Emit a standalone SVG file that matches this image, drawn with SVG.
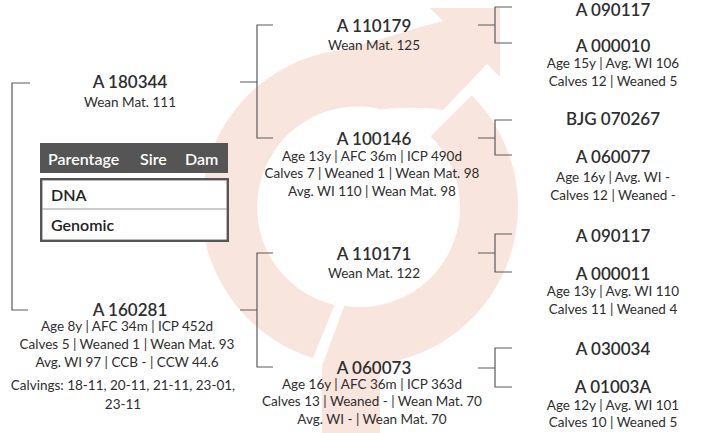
<svg xmlns="http://www.w3.org/2000/svg" width="703" height="433" viewBox="0 0 703 433">
<style>
.bg{fill:#f8e5dd}
.ln{stroke:#5a5a5a;stroke-width:1.2;fill:none}
text{font-family:Lato,"Open Sans","Liberation Sans",sans-serif;fill:#2e2e2e;text-anchor:middle}
.h{font-size:17px;font-weight:600}
.d{font-size:13.5px}
.th{font-size:16px;font-weight:600;fill:#fff;text-anchor:start}
.tr{font-size:16px;font-weight:600;fill:#222;text-anchor:start}
</style>
<rect width="703" height="433" fill="#fff"/>
<g id="background">
<path class="bg" d="M334.5,305 A100,100 0 1 1 381,109.2 Q420,106 443,110 L487,64 L500,77 L500,8 L430,8 L443,21 C415,28 375,42 338,50.5 A158,158 0 0 0 313,358 Z"/>
<path class="bg" d="M471.7,95.3 A158,158 0 0 1 380,363.7 L380,433 L322,433 L322,366 L344.4,305.8 A100,100 0 0 0 430.7,136.3 Z"/>
</g>
<g id="connectors">
<path class="ln" d="M30,83 H12 V310 H28"/>
<path class="ln" d="M240,82 H257 M273,25 H257 V138 H273"/>
<path class="ln" d="M240,310 H257 M273,253 H257 V367 H273"/>
<path class="ln" d="M478,25 H495 M512,7 H495 V43 H512"/>
<path class="ln" d="M478,138 H495 M512,120 H495 V155 H512"/>
<path class="ln" d="M478,253 H495 M512,234 H495 V272 H512"/>
<path class="ln" d="M478,368 H495 M512,348 H495 V387 H512"/>
</g>
<g id="legend">
<rect x="40" y="143" width="188" height="30" fill="#555"/>
<text class="th" x="48" y="165">Parentage</text>
<text class="th" x="140" y="165">Sire</text>
<text class="th" x="185" y="165">Dam</text>
<rect x="41.2" y="179.2" width="186.6" height="61.6" fill="#fff" stroke="#555" stroke-width="2.4"/>
<line x1="42" y1="209" x2="227" y2="209" stroke="#999" stroke-width="1.2"/>
<text class="tr" x="51" y="201">DNA</text>
<text class="tr" x="51" y="231">Genomic</text>
</g>
<g id="n180344">
<text class="h" x="130" y="88">A 180344</text>
<text class="d" x="130" y="107">Wean Mat. 111</text>
</g>
<g id="n160281">
<text class="h" x="130" y="316">A 160281</text>
<text class="d" x="127" y="331">Age 8y | AFC 34m | ICP 452d</text>
<text class="d" x="127" y="349">Calves 5 | Weaned 1 | Wean Mat. 93</text>
<text class="d" x="127" y="367">Avg. WI 97 | CCB - | CCW 44.6</text>
<text class="d" x="123" y="390">Calvings: 18-11, 20-11, 21-11, 23-01,</text>
<text class="d" x="123" y="409">23-11</text>
</g>
<g id="n110179">
<text class="h" x="374" y="32">A 110179</text>
<text class="d" x="374" y="50">Wean Mat. 125</text>
</g>
<g id="n100146">
<text class="h" x="374" y="145">A 100146</text>
<text class="d" x="372" y="161">Age 13y | AFC 36m | ICP 490d</text>
<text class="d" x="372" y="178">Calves 7 | Weaned 1 | Wean Mat. 98</text>
<text class="d" x="372" y="196">Avg. WI 110 | Wean Mat. 98</text>
</g>
<g id="n110171">
<text class="h" x="374" y="260">A 110171</text>
<text class="d" x="374" y="278">Wean Mat. 122</text>
</g>
<g id="n060073">
<text class="h" x="374" y="374">A 060073</text>
<text class="d" x="372" y="389">Age 16y | AFC 36m | ICP 363d</text>
<text class="d" x="372" y="406">Calves 13 | Weaned - | Wean Mat. 70</text>
<text class="d" x="372" y="424">Avg. WI - | Wean Mat. 70</text>
</g>
<g id="n090117a">
<text class="h" x="613" y="15.5">A 090117</text>
</g>
<g id="n000010">
<text class="h" x="613" y="52">A 000010</text>
<text class="d" x="613" y="68">Age 15y | Avg. WI 106</text>
<text class="d" x="613" y="86">Calves 12 | Weaned 5</text>
</g>
<g id="n070267">
<text class="h" x="613" y="125">BJG 070267</text>
</g>
<g id="n060077">
<text class="h" x="613" y="163">A 060077</text>
<text class="d" x="613" y="182">Age 16y | Avg. WI -</text>
<text class="d" x="613" y="200">Calves 12 | Weaned -</text>
</g>
<g id="n090117b">
<text class="h" x="613" y="242">A 090117</text>
</g>
<g id="n000011">
<text class="h" x="613" y="280">A 000011</text>
<text class="d" x="613" y="296">Age 13y | Avg. WI 110</text>
<text class="d" x="613" y="314">Calves 11 | Weaned 4</text>
</g>
<g id="n030034">
<text class="h" x="613" y="355">A 030034</text>
</g>
<g id="n01003A">
<text class="h" x="613" y="393">A 01003A</text>
<text class="d" x="613" y="410">Age 12y | Avg. WI 101</text>
<text class="d" x="613" y="427">Calves 10 | Weaned 5</text>
</g>
</svg>
